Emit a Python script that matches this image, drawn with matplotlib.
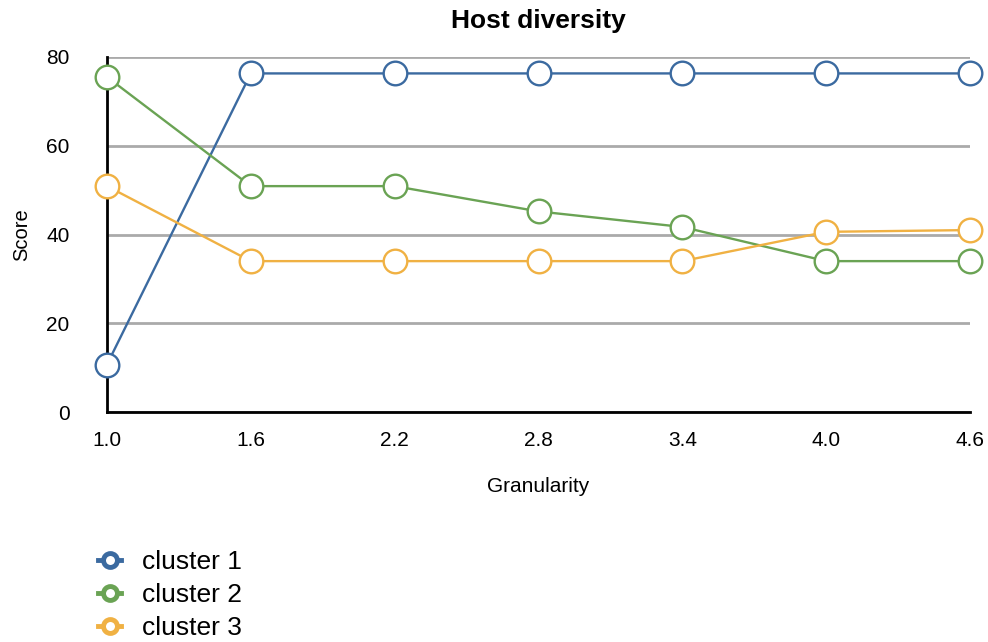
import matplotlib
matplotlib.use("Agg")
import matplotlib.pyplot as plt
from matplotlib.lines import Line2D

plt.rcParams['font.family'] = ['Liberation Sans', 'DejaVu Sans']

granularity = [1.0, 1.6, 2.2, 2.8, 3.4, 4.0, 4.6]
cluster1 = [10.7, 76.3, 76.3, 76.3, 76.3, 76.3, 76.3]
cluster2 = [75.5, 50.9, 50.9, 45.2, 41.7, 34.0, 34.0]
cluster3 = [50.9, 34.0, 34.0, 34.0, 34.0, 40.6, 41.0]
names = ['cluster 1', 'cluster 2', 'cluster 3']
colors = ['#3b6aa0', '#6aa354', '#f0b143']

fig = plt.figure(figsize=(9.88, 6.42), dpi=100)
ax = fig.add_axes([107/988, 1 - 412/642, (970 - 107)/988, (412 - 57)/642])

# gridlines first so the series sit on top
ax.set_ylim(0, 80)
ax.set_xlim(1.0, 4.6)
ax.set_yticks([0, 20, 40, 60, 80])
ax.set_xticks(granularity)
ax.set_xticklabels([f'{g:.1f}' for g in granularity])
ax.yaxis.grid(True, color='#aaaaaa', linewidth=2)
ax.set_axisbelow(True)

for ys, c, n in zip([cluster1, cluster2, cluster3], colors, names):
    ax.plot(granularity, ys, color=c, linewidth=1.7, marker='o', markersize=17,
            markerfacecolor='white', markeredgecolor=c, markeredgewidth=1.7,
            clip_on=False, zorder=3, label=n)

for s in ['top', 'right']:
    ax.spines[s].set_visible(False)
for s in ['left', 'bottom']:
    ax.spines[s].set_linewidth(2)
    ax.spines[s].set_color('black')
ax.tick_params(length=0, labelsize=15, pad=14)
ax.tick_params(axis='y', pad=27)

ax.set_title('Host diversity', fontsize=19, fontweight='bold', pad=21)
ax.set_xlabel('Granularity', fontsize=15, labelpad=19)
ax.set_ylabel('Score', fontsize=14.5, labelpad=11)

handles = [Line2D([0], [0], color=c, linewidth=3.5, marker='o', markersize=10,
                  markerfacecolor='white', markeredgecolor=c, markeredgewidth=3.5)
           for c in colors]
fig.legend(handles, names, loc='upper left', bbox_to_anchor=(0.089, 0.159),
           frameon=False, fontsize=19, handlelength=0.85, handletextpad=0.8,
           labelspacing=0.33, borderaxespad=0)

fig.savefig('out.png', dpi=100)
